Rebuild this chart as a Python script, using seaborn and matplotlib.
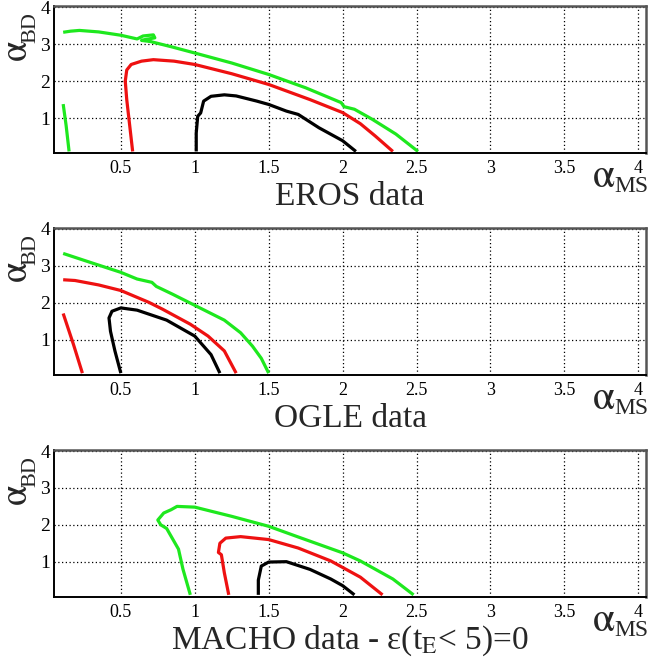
import matplotlib
matplotlib.use("Agg")
import matplotlib.pyplot as plt
import seaborn as sns
import numpy as np
import pandas as pd

# ---------------- data ----------------
TITLES = ["EROS data", "OGLE data", "MACHO data - ε(t$_{\\rm E}$< 5)=0"]
X_TICKS = [0.5, 1, 1.5, 2, 2.5, 3, 3.5, 4]
X_TICK_LABELS = ["0.5", "1", "1.5", "2", "2.5", "3", "3.5", "4"]
Y_TICKS = [1, 2, 3, 4]
Y_TICK_LABELS = ["1", "2", "3", "4"]

# EROS
EROS_GREEN_X = [0.11, 0.16, 0.22, 0.35, 0.50, 0.61, 0.65, 0.72, 0.73, 0.66, 0.64, 0.70, 0.85, 1.00, 1.25, 1.50, 1.75, 1.99, 2.01, 2.08, 2.20, 2.36, 2.51]
EROS_GREEN_Y = [3.32, 3.35, 3.37, 3.33, 3.24, 3.14, 3.22, 3.25, 3.17, 3.12, 3.10, 3.07, 2.92, 2.76, 2.49, 2.18, 1.82, 1.42, 1.31, 1.24, 0.97, 0.57, 0.10]
EROS_GREEN2_X = [0.11, 0.13, 0.15]
EROS_GREEN2_Y = [1.38, 0.80, 0.10]
EROS_RED_X = [0.58, 0.56, 0.54, 0.53, 0.54, 0.57, 0.64, 0.72, 0.86, 1.00, 1.25, 1.50, 1.78, 2.00, 2.12, 2.22, 2.34]
EROS_RED_Y = [0.10, 0.80, 1.50, 2.00, 2.30, 2.45, 2.54, 2.58, 2.54, 2.45, 2.20, 1.91, 1.50, 1.15, 0.85, 0.52, 0.10]
EROS_BLACK_X = [1.01, 1.01, 1.02, 1.04, 1.06, 1.11, 1.20, 1.28, 1.42, 1.50, 1.62, 1.70, 1.84, 2.00, 2.09]
EROS_BLACK_Y = [0.10, 0.60, 1.05, 1.14, 1.46, 1.59, 1.63, 1.60, 1.46, 1.37, 1.19, 1.10, 0.74, 0.39, 0.10]

# OGLE
OGLE_GREEN_X = [0.11, 0.30, 0.50, 0.61, 0.71, 0.74, 0.85, 1.00, 1.20, 1.31, 1.39, 1.45, 1.50]
OGLE_GREEN_Y = [3.33, 3.08, 2.82, 2.64, 2.55, 2.44, 2.23, 1.93, 1.53, 1.19, 0.83, 0.50, 0.10]
OGLE_RED_X = [0.11, 0.19, 0.35, 0.50, 0.69, 0.78, 0.97, 1.09, 1.20, 1.28]
OGLE_RED_Y = [2.62, 2.60, 2.48, 2.33, 2.01, 1.83, 1.42, 1.10, 0.70, 0.10]
OGLE_RED2_X = [0.11, 0.18, 0.24]
OGLE_RED2_Y = [1.71, 0.87, 0.10]
OGLE_BLACK_X = [0.50, 0.46, 0.43, 0.42, 0.44, 0.50, 0.61, 0.81, 1.00, 1.11, 1.17]
OGLE_BLACK_Y = [0.10, 0.70, 1.23, 1.59, 1.77, 1.86, 1.80, 1.53, 1.10, 0.60, 0.10]

# MACHO
MACHO_GREEN_X = [0.97, 0.92, 0.89, 0.81, 0.77, 0.75, 0.79, 0.84, 0.88, 1.00, 1.25, 1.50, 1.70, 2.00, 2.12, 2.34, 2.48]
MACHO_GREEN_Y = [0.10, 0.80, 1.34, 1.90, 2.00, 2.13, 2.32, 2.41, 2.50, 2.48, 2.23, 1.96, 1.67, 1.24, 1.02, 0.53, 0.10]
MACHO_RED_X = [1.23, 1.20, 1.18, 1.16, 1.17, 1.21, 1.31, 1.50, 1.70, 1.92, 2.12, 2.27]
MACHO_RED_Y = [0.10, 0.70, 1.19, 1.25, 1.50, 1.64, 1.68, 1.60, 1.37, 1.02, 0.58, 0.10]
MACHO_BLACK_X = [1.43, 1.43, 1.45, 1.50, 1.62, 1.78, 1.92, 2.00, 2.08]
MACHO_BLACK_Y = [0.10, 0.50, 0.88, 0.99, 1.00, 0.79, 0.53, 0.35, 0.10]

GREEN = "#1ee81e"
RED = "#ee1111"
BLACK = "#000000"

PANELS = [
    [(EROS_GREEN_X, EROS_GREEN_Y, GREEN), (EROS_GREEN2_X, EROS_GREEN2_Y, GREEN),
     (EROS_RED_X, EROS_RED_Y, RED), (EROS_BLACK_X, EROS_BLACK_Y, BLACK)],
    [(OGLE_GREEN_X, OGLE_GREEN_Y, GREEN), (OGLE_RED_X, OGLE_RED_Y, RED),
     (OGLE_RED2_X, OGLE_RED2_Y, RED), (OGLE_BLACK_X, OGLE_BLACK_Y, BLACK)],
    [(MACHO_GREEN_X, MACHO_GREEN_Y, GREEN), (MACHO_RED_X, MACHO_RED_Y, RED),
     (MACHO_BLACK_X, MACHO_BLACK_Y, BLACK)],
]

# ---------------- style ----------------
sns.set_style("white")
SERIF = ["Liberation Serif", "DejaVu Serif"]
plt.rcParams["font.family"] = SERIF
plt.rcParams["mathtext.fontset"] = "custom"
plt.rcParams["mathtext.rm"] = "STIXGeneral"
plt.rcParams["mathtext.it"] = "STIXGeneral:italic"
ALPHA = r"$\mathrm{\alpha}$"

W, H = 648, 660
fig = plt.figure(figsize=(W / 100, H / 100), dpi=100)

left_px, right_px = 54.3, 645.7
panel_px = [(6.0, 153.3), (227.5, 375.0), (450.0, 596.7)]

for i, (top_px, bot_px) in enumerate(panel_px):
    ax = fig.add_axes([left_px / W, 1 - bot_px / H, (right_px - left_px) / W, (bot_px - top_px) / H])
    for xs, ys, col in PANELS[i]:
        df = pd.DataFrame({"x": xs, "y": ys})
        sns.lineplot(data=df, x="x", y="y", sort=False, estimator=None, color=col,
                     lw=2.3, ax=ax, solid_capstyle="butt")
    ax.set_xlim(0.05, 4.05)
    ax.set_ylim(0.05, 4.03)
    ax.set_xticks(X_TICKS)
    ax.set_xticklabels(X_TICK_LABELS, fontsize=13, family=SERIF)
    ax.set_yticks(Y_TICKS)
    ax.set_yticklabels(Y_TICK_LABELS, fontsize=14, family=SERIF)
    ax.set_xticks(np.arange(0.1, 4.05, 0.1), minor=True)
    ax.set_yticks(np.arange(0.2, 4.0, 0.2), minor=True)
    ax.tick_params(axis="x", which="major", direction="in", length=0, pad=5, colors="black")
    ax.tick_params(axis="y", which="major", direction="in", length=0, pad=3, colors="black")
    ax.tick_params(axis="both", which="minor", direction="in", length=4, width=0.9, color="black")
    ax.grid(True, which="major", color="black", linestyle=(0, (1, 2)), lw=0.9)
    ax.set_xlabel("")
    ax.set_ylabel("")
    for s in ["bottom", "left"]:
        ax.spines[s].set_color("black")
        ax.spines[s].set_linewidth(1.4)
    for s in ["top", "right"]:
        ax.spines[s].set_color("#555555")
        ax.spines[s].set_linewidth(1.8)
    ax.set_axisbelow(True)

    # titles
    fig.text(350 / W, 1 - (bot_px + 52) / H, TITLES[i], ha="center", va="baseline",
             fontsize=24, family=SERIF)
    # alpha_MS label (alpha + lowered subscript)
    fig.text(615 / W, 1 - (bot_px + 34) / H, ALPHA, ha="right", va="baseline", fontsize=29)
    fig.text(614 / W, 1 - (bot_px + 39) / H, "MS", ha="left", va="baseline",
             fontsize=17, family=SERIF)
    # alpha_BD label (rotated, reads bottom to top)
    fig.text(27 / W, 1 - (top_px + 45) / H, ALPHA, ha="center", va="baseline",
             rotation=90, rotation_mode="anchor", fontsize=27)
    fig.text(35 / W, 1 - (top_px + 22) / H, "BD", ha="center", va="baseline",
             rotation=90, rotation_mode="anchor", fontsize=16, family=SERIF)

fig.savefig("out.png", dpi=100)
